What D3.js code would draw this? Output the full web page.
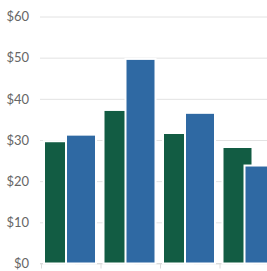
<!DOCTYPE html>
<html>
<head>
<meta charset="utf-8">
<script src="https://cdn.jsdelivr.net/npm/d3@7"></script>
<style>
    html, body { margin: 0; padding: 0; background: #fff; overflow: hidden; }
    svg { display: block; }
</style>
</head>
<body>
<div id="chart"></div>
<script>
// Data
const categories = ['A', 'B', 'C', 'D'];
const seriesNames = ['green', 'blue'];
const greenValues = [29.7, 37.3, 31.7, 28.3];
const blueValues = [31.3, 49.7, 36.6, 23.8];
const yTicks = [0, 10, 20, 30, 40, 50, 60];

const width = 267;
const height = 271;
const colors = { green: '#125c43', blue: '#2f69a3' };

const svg = d3.select('#chart')
    .append('svg')
    .attr('width', width)
    .attr('height', height);

const y = d3.scaleLinear()
    .domain([0, 60])
    .range([263.5, 16.5]);

// plot runs off the right edge of the picture
const x0 = d3.scaleBand()
    .domain(categories)
    .range([41.5, 41.5 + 59.5 * categories.length])
    .padding(0);

const x1 = d3.scaleBand()
    .domain(seriesNames)
    .range([2.5, 46.5])
    .padding(0);

const barW = 30;

// gridlines + y labels
const yAxis = d3.axisLeft(y)
    .tickValues(yTicks)
    .tickSize(-(width - 40))
    .tickPadding(11)
    .tickFormat(d => '$' + d);

svg.append('g')
    .attr('transform', 'translate(40,0)')
    .call(yAxis)
    .call(g => g.select('.domain').remove())
    .call(g => g.selectAll('.tick line').attr('stroke', '#e2e2e2'))
    .call(g => g.selectAll('.tick text')
        .attr('fill', '#666')
        .style('font-family', 'Lato, "Open Sans", sans-serif')
        .style('font-size', '13px'));

// x axis baseline with ticks at band edges
const edges = categories.map(c => x0(c)).concat([x0.range()[1]]);
const xg = svg.append('g');
xg.append('line')
    .attr('x1', 40).attr('x2', width)
    .attr('y1', y(0)).attr('y2', y(0))
    .attr('stroke', '#dcdcdc');
xg.selectAll('line.tk')
    .data(edges)
    .join('line')
    .attr('class', 'tk')
    .attr('x1', d => d).attr('x2', d => d)
    .attr('y1', y(0)).attr('y2', y(0) + 5)
    .attr('stroke', '#dcdcdc');

// bars: green first, blue overlaps on top
const rows = categories.map((c, i) => ({ cat: c, green: greenValues[i], blue: blueValues[i] }));

seriesNames.forEach(s => {
    svg.append('g')
        .selectAll('rect')
        .data(rows)
        .join('rect')
        .attr('x', d => x0(d.cat) + x1(s))
        .attr('y', d => y(d[s]))
        .attr('width', barW)
        .attr('height', d => y(0) - y(d[s]))
        .attr('fill', colors[s])
        .attr('stroke', '#fff')
        .attr('stroke-width', 2);
});
</script>
</body>
</html>
